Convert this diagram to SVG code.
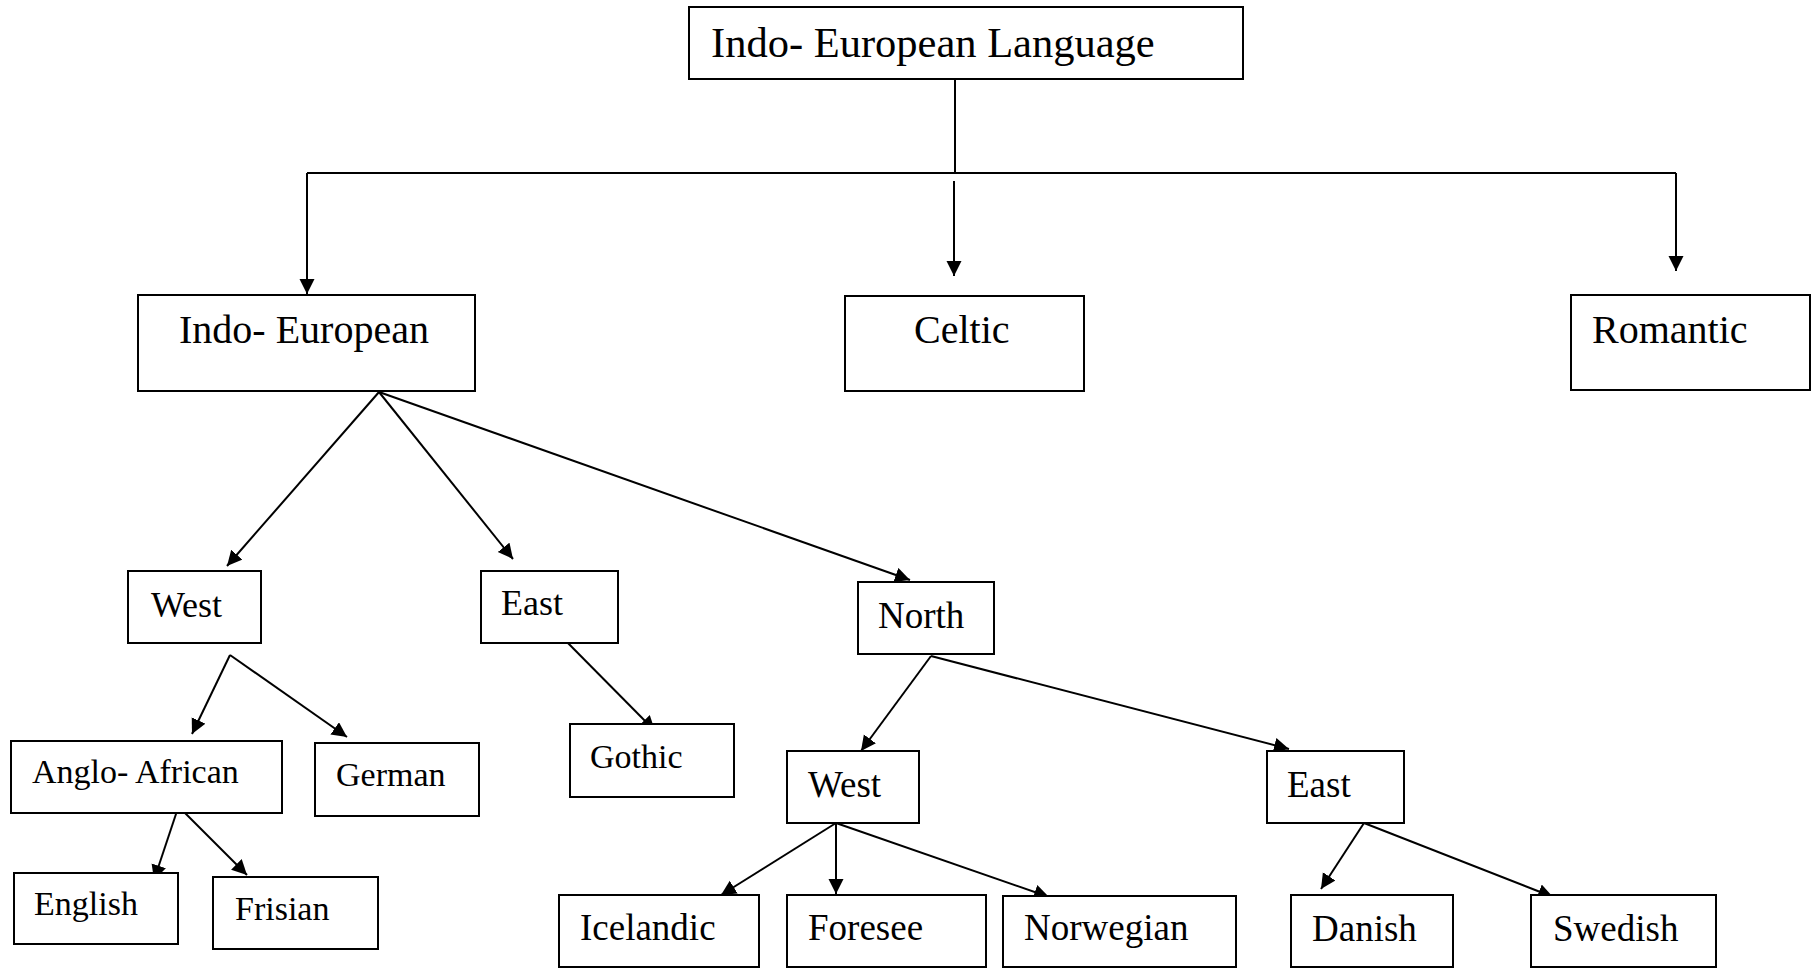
<svg xmlns="http://www.w3.org/2000/svg" width="1812" height="968" viewBox="0 0 1812 968">
<style>
rect{fill:#fff;stroke:#000;stroke-width:2}
text{font-family:"Liberation Serif","Times New Roman",serif;fill:#000}
.c line,.c polyline{stroke:#000;stroke-width:2;fill:none}
.a{marker-end:url(#ah)}
</style>
<defs>
<marker id="ah" markerUnits="userSpaceOnUse" markerWidth="16" markerHeight="16" refX="15" refY="7.5" orient="auto">
<path d="M0,0 L15,7.5 L0,15 z" fill="#000"/>
</marker>
</defs>
<g class="c" id="connectors">
<line x1="955" y1="79" x2="955" y2="173"/>
<line x1="307" y1="173" x2="1676" y2="173"/>
<line class="a" x1="307" y1="173" x2="307" y2="294"/>
<line class="a" x1="954" y1="181" x2="954" y2="276"/>
<line class="a" x1="1676" y1="173" x2="1676" y2="271"/>
<line class="a" x1="379" y1="392" x2="227" y2="566"/>
<line class="a" x1="379" y1="392" x2="513" y2="559"/>
<line class="a" x1="379" y1="392" x2="910" y2="580"/>
<line class="a" x1="230" y1="655" x2="192" y2="734"/>
<line class="a" x1="230" y1="655" x2="347" y2="737"/>
<line class="a" x1="175" y1="803" x2="247" y2="875"/>
<line class="a" x1="178" y1="808" x2="154" y2="880"/>
<line class="a" x1="560" y1="635" x2="655" y2="731"/>
<line class="a" x1="931" y1="656" x2="861" y2="751"/>
<line class="a" x1="931" y1="656" x2="1289" y2="749"/>
<line class="a" x1="836" y1="823" x2="721" y2="895"/>
<line class="a" x1="836" y1="823" x2="836" y2="894"/>
<line class="a" x1="836" y1="823" x2="1049" y2="897"/>
<line class="a" x1="1364" y1="823" x2="1321" y2="889"/>
<line class="a" x1="1364" y1="823" x2="1553" y2="897"/>
</g>
<g id="n-root"><rect x="689" y="7" width="554" height="72"/><text x="711" y="57" font-size="42.5">Indo- European Language</text></g>
<g id="n-indoeuropean"><rect x="138" y="295" width="337" height="96"/><text x="179" y="343" font-size="40">Indo- European</text></g>
<g id="n-celtic"><rect x="845" y="296" width="239" height="95"/><text x="914" y="343" font-size="40">Celtic</text></g>
<g id="n-romantic"><rect x="1571" y="295" width="239" height="95"/><text x="1592" y="343" font-size="40">Romantic</text></g>
<g id="n-west"><rect x="128" y="571" width="133" height="72"/><text x="151" y="617" font-size="36">West</text></g>
<g id="n-east"><rect x="481" y="571" width="137" height="72"/><text x="501" y="615" font-size="36">East</text></g>
<g id="n-north"><rect x="858" y="582" width="136" height="72"/><text x="878" y="628" font-size="37">North</text></g>
<g id="n-anglo"><rect x="11" y="741" width="271" height="72"/><text x="32" y="783" font-size="34">Anglo- African</text></g>
<g id="n-german"><rect x="315" y="743" width="164" height="73"/><text x="336" y="786" font-size="34">German</text></g>
<g id="n-gothic"><rect x="570" y="724" width="164" height="73"/><text x="590" y="768" font-size="34">Gothic</text></g>
<g id="n-west2"><rect x="787" y="751" width="132" height="72"/><text x="808" y="797" font-size="37">West</text></g>
<g id="n-east2"><rect x="1267" y="751" width="137" height="72"/><text x="1287" y="797" font-size="37">East</text></g>
<g id="n-english"><rect x="14" y="873" width="164" height="71"/><text x="34" y="915" font-size="34">English</text></g>
<g id="n-frisian"><rect x="213" y="877" width="165" height="72"/><text x="235" y="920" font-size="34">Frisian</text></g>
<g id="n-icelandic"><rect x="559" y="895" width="200" height="72"/><text x="580" y="940" font-size="37">Icelandic</text></g>
<g id="n-foresee"><rect x="787" y="895" width="199" height="72"/><text x="808" y="940" font-size="37">Foresee</text></g>
<g id="n-norwegian"><rect x="1003" y="896" width="233" height="71"/><text x="1024" y="940" font-size="37">Norwegian</text></g>
<g id="n-danish"><rect x="1291" y="895" width="162" height="72"/><text x="1312" y="941" font-size="37">Danish</text></g>
<g id="n-swedish"><rect x="1531" y="895" width="185" height="72"/><text x="1553" y="941" font-size="37">Swedish</text></g>
</svg>
